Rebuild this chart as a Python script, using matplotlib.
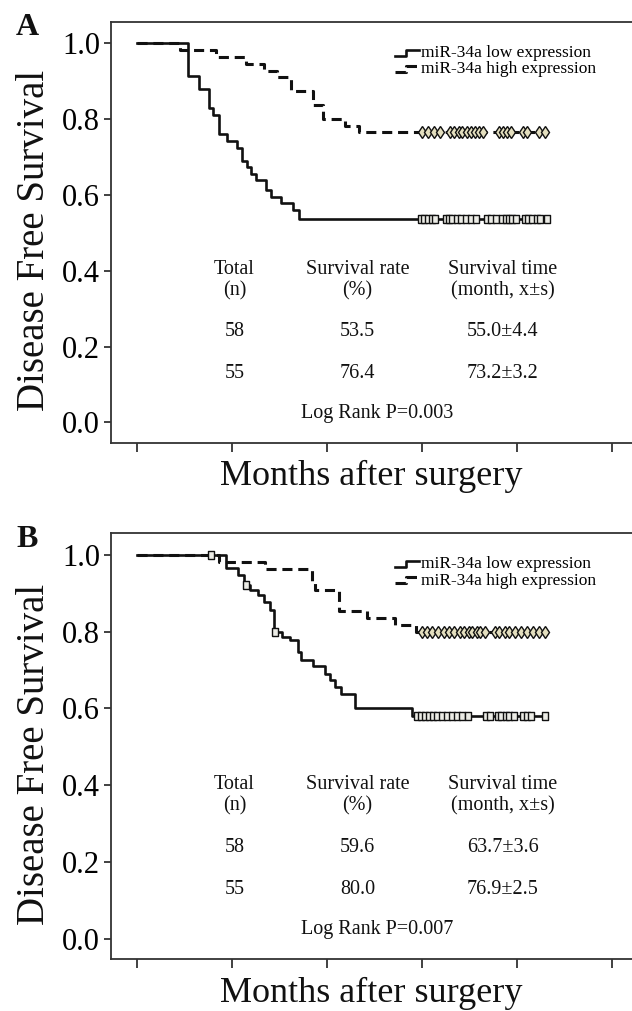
import matplotlib
matplotlib.use('Agg')
import matplotlib.pyplot as plt
import numpy as np
from matplotlib.lines import Line2D
from matplotlib.legend_handler import HandlerBase

plt.rcParams['font.family'] = 'Liberation Serif'

# ---- panel A (months, disease free survival) ----
a_low_time = [0, 10.8, 13.0, 15.1, 15.9, 17.2, 19.0, 21.0, 22.1, 23.2, 24.0, 25.0, 27.1, 28.1, 30.2, 32.8, 34.1]
a_low_surv = [1.0, 0.914, 0.879, 0.828, 0.810, 0.759, 0.741, 0.724, 0.690, 0.672, 0.655, 0.638, 0.612, 0.595, 0.578, 0.560, 0.535]
a_low_cens = [59.8, 60.5, 61.2, 62.0, 62.7, 65.0, 65.7, 66.4, 67.3, 68.1, 69.2, 70.3, 71.3, 73.6, 74.6,
              75.5, 76.9, 77.6, 78.3, 79.0, 79.7, 81.6, 82.4, 83.2, 84.1, 84.9, 86.3]

a_high_time = [0, 9.0, 16.6, 23.0, 26.8, 29.5, 32.5, 37.0, 39.2, 43.8, 46.8]
a_high_surv = [1.0, 0.982, 0.964, 0.945, 0.927, 0.909, 0.873, 0.836, 0.800, 0.782, 0.764]
a_high_cens = [60.0, 61.3, 62.5, 63.8, 65.9, 66.8, 67.7, 68.5, 69.4, 70.2, 71.1, 71.9, 72.8,
               76.2, 77.0, 77.9, 78.7, 81.3, 82.1, 84.7, 85.9]

a_table = [['58', '53.5', '55.0±4.4'], ['55', '76.4', '73.2±3.2']]
a_logrank = 'Log Rank P=0.003'

# ---- panel B ----
b_low_time = [0, 18.7, 21.3, 22.6, 23.8, 25.5, 26.8, 27.9, 28.9, 30.6, 32.3, 33.9, 34.5, 37.0, 39.6,
              40.7, 41.7, 43.0, 45.9, 57.9]
b_low_surv = [1.0, 0.965, 0.948, 0.922, 0.909, 0.896, 0.878, 0.856, 0.800, 0.787, 0.778, 0.748, 0.726,
              0.711, 0.691, 0.674, 0.656, 0.637, 0.600, 0.580]
b_low_cens = [15.6, 22.9, 29.0, 59.0, 59.8, 60.7, 61.5, 62.4, 63.2, 64.1, 65.2, 66.2, 67.4, 68.5, 69.6,
              73.4, 74.3, 75.9, 76.7, 77.6, 78.4, 79.3, 81.2, 82.1, 82.9, 85.9]

b_high_time = [0, 17.3, 27.0, 36.8, 37.5, 42.6, 48.5, 54.4, 58.7]
b_high_surv = [1.0, 0.982, 0.964, 0.927, 0.909, 0.855, 0.836, 0.818, 0.800]
b_high_cens = [60.0, 61.1, 62.1, 63.4, 64.7, 65.7, 66.8, 67.9, 68.9, 69.8, 70.6, 71.5, 72.3, 73.2,
               75.3, 76.3, 77.4, 78.4, 79.5, 80.8, 82.1, 83.4, 84.7, 85.9]

b_table = [['58', '59.6', '63.7±3.6'], ['55', '80.0', '76.9±2.5']]
b_logrank = 'Log Rank P=0.007'

table_head = [('Total', '(n)'), ('Survival rate', '(%)'), ('Survival time', '(month, x±s)')]
table_cols = [20.5, 46.4, 77.0]
labels = ['miR-34a low expression', 'miR-34a high expression']

W, H = 632, 1011
INK = '#111111'
# tall narrow box used for the censor ticks of the low group
RECT = [(-0.33, -0.5), (0.33, -0.5), (0.33, 0.5), (-0.33, 0.5), (-0.33, -0.5)]


class StepHandler(HandlerBase):
    def create_artists(self, legend, orig, xd, yd, width, height, fontsize, trans):
        xs = [xd, xd + width * 0.45, xd + width * 0.45, xd + width]
        ys = [yd + height * 0.1, yd + height * 0.1, yd + height * 0.6, yd + height * 0.6]
        ln = Line2D(xs, ys, color=orig.get_color(), lw=orig.get_linewidth(),
                    linestyle=orig.get_linestyle())
        ln.set_transform(trans)
        return [ln]


def surv_at(times, surv, t):
    i = np.searchsorted(times, t, side='right') - 1
    return surv[i]


def km_line(ax, times, surv, cens, ls, lw, marker, mfc, ms):
    end = max(cens)
    xs = list(times) + [end]
    ys = list(surv) + [surv[-1]]
    line, = ax.step(xs, ys, where='post', color=INK, lw=lw, linestyle=ls)
    cy = [surv_at(times, surv, c) for c in cens]
    ax.plot(cens, cy, linestyle='none', marker=marker, mfc=mfc, mec=INK, mew=1.0, ms=ms)
    return line


def panel(top_px, bottom_px, letter, low, high, rows, logrank):
    ax = fig.add_axes([111 / W, 1 - bottom_px / H, (W - 111) / W, (bottom_px - top_px) / H])
    ax.set_xlim(-5.49, 104.2)
    ax.set_ylim(-0.053, 1.056)

    h_line = km_line(ax, *high, ls=(0, (3.3, 1.9)), lw=2.2, marker='d', mfc='#e4dfbf', ms=6.5)
    l_line = km_line(ax, *low, ls='-', lw=1.9, marker=RECT, mfc='#ecece6', ms=6)

    ax.spines['right'].set_visible(False)
    for s in ['left', 'top', 'bottom']:
        ax.spines[s].set_color('#333333')
        ax.spines[s].set_linewidth(1.3)

    ax.set_xticks([0, 20, 40, 60, 80, 100])
    ax.set_xticklabels([])
    ax.set_yticks([0, 0.2, 0.4, 0.6, 0.8, 1.0])
    ax.set_yticklabels(['%.1f' % v for v in [0, 0.2, 0.4, 0.6, 0.8, 1.0]], fontsize=22)
    ax.tick_params(axis='x', direction='out', length=6.5, width=1.3, color='#333333')
    ax.tick_params(axis='y', direction='out', length=5, width=1.3, color='#333333', pad=3)

    # table
    fs = 14.5
    for x, (h1, h2) in zip(table_cols, table_head):
        ax.text(x, 0.402, h1, ha='center', va='center', fontsize=fs, color=INK)
        ax.text(x, 0.347, h2, ha='center', va='center', fontsize=fs, color=INK)
    for y, row in zip([0.239, 0.129], rows):
        for x, val in zip(table_cols, row):
            ax.text(x, y, val, ha='center', va='center', fontsize=fs, color=INK)
    ax.text(50.6, 0.024, logrank, ha='center', va='center', fontsize=fs, color=INK)

    ax.legend([l_line, h_line], labels, loc='upper left',
              bbox_to_anchor=((395 - 111) / (W - 111), 1 - 23 / (bottom_px - top_px)),
              frameon=False, fontsize=12.5, handlelength=1.4, handletextpad=0.1,
              borderpad=0, borderaxespad=0, labelspacing=0.0,
              handler_map={Line2D: StepHandler()})

    mid = (top_px + bottom_px) / 2
    fig.text(35 / W, 1 - (mid + 8) / H, 'Disease Free Survival', rotation=90, ha='center', va='center',
             fontsize=28, color=INK)
    fig.text(371 / W, 1 - (bottom_px + 34) / H, 'Months after surgery', ha='center', va='center',
             fontsize=26, color=INK)
    fig.text(27 / W, 1 - (top_px + 6) / H, letter, ha='center', va='center', fontsize=23,
             fontweight='bold', color=INK)
    return ax


fig = plt.figure(figsize=(W / 100, H / 100), dpi=100)
fig.patch.set_facecolor('white')

panel(21.7, 442.5, 'A', (a_low_time, a_low_surv, a_low_cens), (a_high_time, a_high_surv, a_high_cens),
      a_table, a_logrank)
panel(533.3, 959.3, 'B', (b_low_time, b_low_surv, b_low_cens), (b_high_time, b_high_surv, b_high_cens),
      b_table, b_logrank)

fig.savefig('out.png', dpi=100)
